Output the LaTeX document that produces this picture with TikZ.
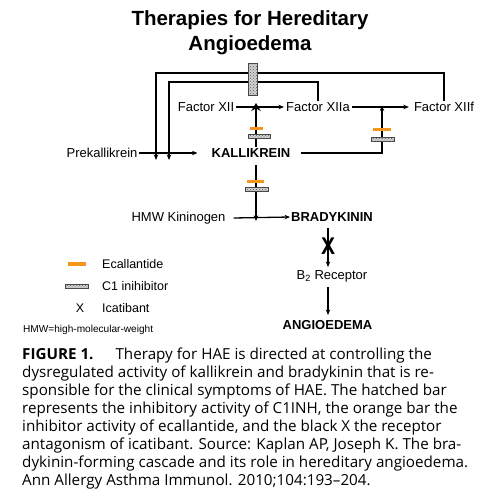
\documentclass[tikz,border=0pt]{standalone}
\usepackage{fontspec}
\setmainfont{Liberation Sans}
\newfontfamily\capfont{Open Sans}
\usetikzlibrary{arrows.meta,patterns}
\definecolor{ecal}{RGB}{247,148,30}
\tikzset{
  lbl/.style={inner sep=1pt, font=\fontsize{13}{15}\selectfont},
  blbl/.style={inner sep=1pt, font=\fontsize{13}{15}\selectfont\bfseries},
  leg/.style={inner sep=0pt, anchor=west, font=\fontsize{12.5}{14}\selectfont},
  captext/.style={inner sep=0pt, anchor=west, font=\capfont\fontsize{15.2}{18}\selectfont},
  conn/.style={line width=1.3pt, -{Stealth[length=5.5pt,width=4.5pt]}},
  hatchbar/.style={fill=gray!35, draw=gray!55!black, line width=0.5pt,
    postaction={pattern=crosshatch dots, pattern color=gray!70!black}},
  ecalbar/.style={fill=ecal, draw=none},
}
\begin{document}
\begin{tikzpicture}[x=1pt,y=-1pt]
\useasboundingbox (0,0) rectangle (480,500);
\fill[white] (0,0) rectangle (480,500);

% title
\node[inner sep=0pt, font=\fontsize{20.5}{24}\selectfont\bfseries] (t1) at (250,20) {Therapies for Hereditary};
\node[inner sep=0pt, font=\fontsize{20.5}{24}\selectfont\bfseries] (t2) at (250,45) {Angioedema};

% nodes
\node[lbl] (fxii)  at (206,107) {Factor XII};
\node[lbl] (fxiia) at (318,107) {Factor XIIa};
\node[lbl] (fxiif) at (444,107) {Factor XIIf};
\node[lbl] (prek)  at (102,153) {Prekallikrein};
\node[blbl] (kal)  at (251,153) {KALLIKREIN};
\node[lbl] (hmw)   at (178.5,218) {HMW Kininogen};
\node[blbl] (brady) at (332,217) {BRADYKININ};
\node[lbl] (b2)    at (332,276) {B\textsubscript{2} Receptor};
\node[blbl] (angio) at (327.5,325) {ANGIOEDEMA};

% junction coordinates
\coordinate (j1) at (256,107);
\coordinate (j2) at (382,107);
\coordinate (j3) at (256,217);
\coordinate (ol) at (156,153);
\coordinate (il) at (169,153);

% loops
\draw[conn] (fxiif.north) |- (444,73) -| ([yshift=-7pt]ol);
\draw[conn] (fxiia.north) |- (317,82) -| ([yshift=-7pt]il);

% main arrows
\draw[conn] ([xshift=1pt]fxii.east) -- ([xshift=-1pt]fxiia.west);
\draw[conn] ([xshift=1pt]fxiia.east) -- ([xshift=-4pt]fxiif.west);
\draw[conn] (prek.east) -- ([xshift=-13pt]kal.west);
\draw[conn] ([xshift=9pt]kal.east) -| ([yshift=1.5pt]j2);
\draw[line width=2.8pt, -{Stealth[length=8pt,width=9.5pt]}] (256,147) -- ([yshift=4pt]j1);
\draw[conn] (256,165) -- ([yshift=-4pt]j3);
\draw[conn] ([xshift=7pt]hmw.east) -- (brady.west);
\draw[conn] (328,228) -- (328,267);
\draw[conn] (328,287) -- (328,315);

% icatibant X
\node[inner sep=0pt, font=\fontsize{21}{24}\selectfont\bfseries, yscale=1.15] (xic) at (328,246) {X};

% inhibitor bars
\draw[hatchbar] (248,63) rectangle (257,95);
\fill[ecalbar] (250,126.5) rectangle (263,130);
\draw[hatchbar] (248,134.5) rectangle (270,138.5);
\fill[ecalbar] (373,127.5) rectangle (391,131);
\draw[hatchbar] (371,137) rectangle (394,141);
\fill[ecalbar] (247,179.5) rectangle (264,183);
\draw[hatchbar] (245,187.5) rectangle (268,191.5);

% legend
\fill[ecalbar] (68,262) rectangle (86,265.5);
\node[leg] (l1) at (102,264) {Ecallantide};
\draw[hatchbar] (65,284.5) rectangle (88,288);
\node[leg] (l2) at (102,286) {C1 inihibitor};
\node[inner sep=0pt, font=\fontsize{12.5}{14}\selectfont] (lx) at (80,308) {X};
\node[leg] (l3) at (102,308) {Icatibant};
\node[inner sep=0pt, anchor=west, font=\fontsize{10.1}{12}\selectfont] (hmwnote) at (23,330) {HMW=high-molecular-weight};

% caption
\node[captext] (c1) at (22,356) {\textbf{FIGURE 1.}\hspace{22pt}Therapy for HAE is directed at controlling the};
\node[captext] (c2) at (22,374) {dysregulated activity of kallikrein and bradykinin that is re-};
\node[captext] (c3) at (22,392) {sponsible for the clinical symptoms of HAE. The hatched bar};
\node[captext] (c4) at (22,410) {represents the inhibitory activity of C1INH, the orange bar the};
\node[captext] (c5) at (22,428) {inhibitor activity of ecallantide, and the black X the receptor};
\node[captext] (c6) at (22,446) {antagonism of icatibant. Source: Kaplan AP, Joseph K. The bra-};
\node[captext] (c7) at (22,464) {dykinin-forming cascade and its role in hereditary angioedema.};
\node[captext] (c8) at (22,482) {Ann Allergy Asthma Immunol. 2010;104:193\textendash 204.};
\end{tikzpicture}
\end{document}
